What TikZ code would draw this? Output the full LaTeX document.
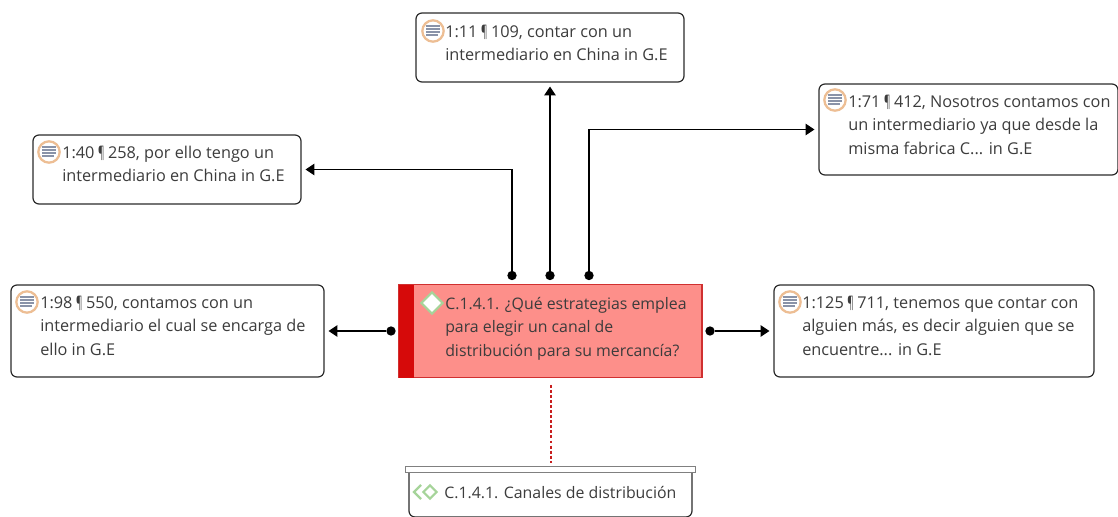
\documentclass[tikz,border=0pt]{standalone}
\usepackage{fontspec}
\usepackage{graphicx}
\setmainfont{Open Sans}
\usetikzlibrary{arrows.meta,shapes.geometric}
\definecolor{txt}{HTML}{3C3C3C}
\definecolor{boxedge}{HTML}{2B2B2B}
\definecolor{redfill}{HTML}{FD8F8A}
\definecolor{redband}{HTML}{D60A0A}
\definecolor{rededge}{HTML}{D03030}
\definecolor{ring}{HTML}{EDBE94}
\definecolor{lineic}{HTML}{8A93A8}
\definecolor{greenic}{HTML}{A6D49A}
\definecolor{dotred}{HTML}{C81E1E}
\newcommand{\pil}{\kern-0.5pt\scalebox{0.6}[1]{¶}\kern-0.5pt}
\tikzset{
  x=0.75pt,y=-0.75pt,
  quote/.style={draw=boxedge,line width=0.9pt,rounded corners=4.5pt,fill=white,inner sep=0pt},
  label/.style={anchor=north west,inner sep=0pt,align=left,text=txt,font=\fontsize{12.2}{17.5}\selectfont},
  codelabel/.style={label,font=\fontsize{11.9}{17.5}\selectfont},
  blob/.style={circle,fill=black,inner sep=0pt,minimum size=7pt},
  link/.style={line width=0.9pt,black,-{Triangle[length=6.5pt,width=8.5pt]},shorten >=3pt},
}
\newcommand{\docicon}[2]{%
  \fill[white,draw=ring,line width=1.7pt] (#1,#2) circle (8pt);
  \foreach \dy/\w in {-5/7,-2/7,1/7,4/5}{\draw[lineic,line width=1.2pt] (#1-7,#2+\dy) -- (#1+\w,#2+\dy);}%
}
\begin{document}
\begin{tikzpicture}
\useasboundingbox (0,0) rectangle (1118,517);
% boxes
\node[quote,minimum width=201pt,minimum height=51.75pt] (top) at (550,47.5) {};
\node[quote,minimum width=224.25pt,minimum height=68.25pt] (rtop) at (968.5,129.5) {};
\node[quote,minimum width=201pt,minimum height=51.75pt] (ltop) at (167,169.5) {};
\node[quote,minimum width=234.75pt,minimum height=69pt] (left) at (167.5,331) {};
\node[quote,minimum width=240pt,minimum height=69pt] (right) at (934,331) {};
% centre
\node[draw=rededge,fill=redfill,line width=0.9pt,minimum width=227.25pt,minimum height=69.75pt,inner sep=0pt] (centre) at (550.5,331) {};
\fill[redband] (399,285) rectangle (414,378);
% bottom
\path[draw=boxedge,line width=0.9pt,fill=white,rounded corners=4.5pt] (409,470) -- (409,517) -- (692,517) -- (692,470);
\node[draw=gray,fill=white,line width=1.3pt,minimum width=217.5pt,minimum height=4.5pt,inner sep=0pt] (cap) at (550.5,469.5) {};
% texts
\node[label] (t1) at (445,25) {1:11 \pil{} 109, contar con un\\intermediario en China in G.E};
\node[label] (t2) at (848,95) {1:71 \pil{} 412, Nosotros contamos con\\un intermediario ya que desde la\\misma fabrica C... in G.E};
\node[label] (t3) at (62,146) {1:40 \pil{} 258, por ello tengo un\\intermediario en China in G.E};
\node[label] (t4) at (40,296) {1:98 \pil{} 550, contamos con un\\intermediario el cual se encarga de\\ello in G.E};
\node[label] (t5) at (802,296) {1:125 \pil{} 711, tenemos que contar con\\alguien más, es decir alguien que se\\encuentre... in G.E};
\node[codelabel] (t6) at (445,297) {C.1.4.1. ¿Qué estrategias emplea\\para elegir un canal de\\distribución para su mercancía?};
\node[codelabel] (t7) at (444,486) {C.1.4.1. Canales de distribución};
% icons
\docicon{433}{31}
\docicon{835}{100}
\docicon{49}{152}
\docicon{27}{302}
\docicon{790}{302}
\node[diamond,draw=greenic,fill=white,line width=1.6pt,minimum size=16.5pt,inner sep=0pt] (dia) at (432,303) {};
\node[diamond,draw=greenic,line width=1.6pt,minimum size=10.5pt,inner sep=0pt] (dib) at (430,492) {};
\draw[greenic,line width=1.6pt] (421,485) -- (414,492) -- (421,499);
% connectors
\node[blob] (d1) at (512,275.5) {};
\node[blob] (d2) at (550,275.5) {};
\node[blob] (d3) at (589,275.5) {};
\node[blob] (d4) at (391,331) {};
\node[blob] (d5) at (710,331) {};
\draw[link] (d1) |- (ltop.east);
\draw[link] (d2) -- (top.south);
\draw[link] (d3) |- (rtop.west);
\draw[link] (d4) -- (left.east);
\draw[link] (d5) -- (right.west);
\draw[dotred,line width=1.5pt,dash pattern=on 2.2pt off 1.6pt,shorten <=5pt,shorten >=2pt] (centre.south) -- (cap.north);
\end{tikzpicture}
\end{document}
